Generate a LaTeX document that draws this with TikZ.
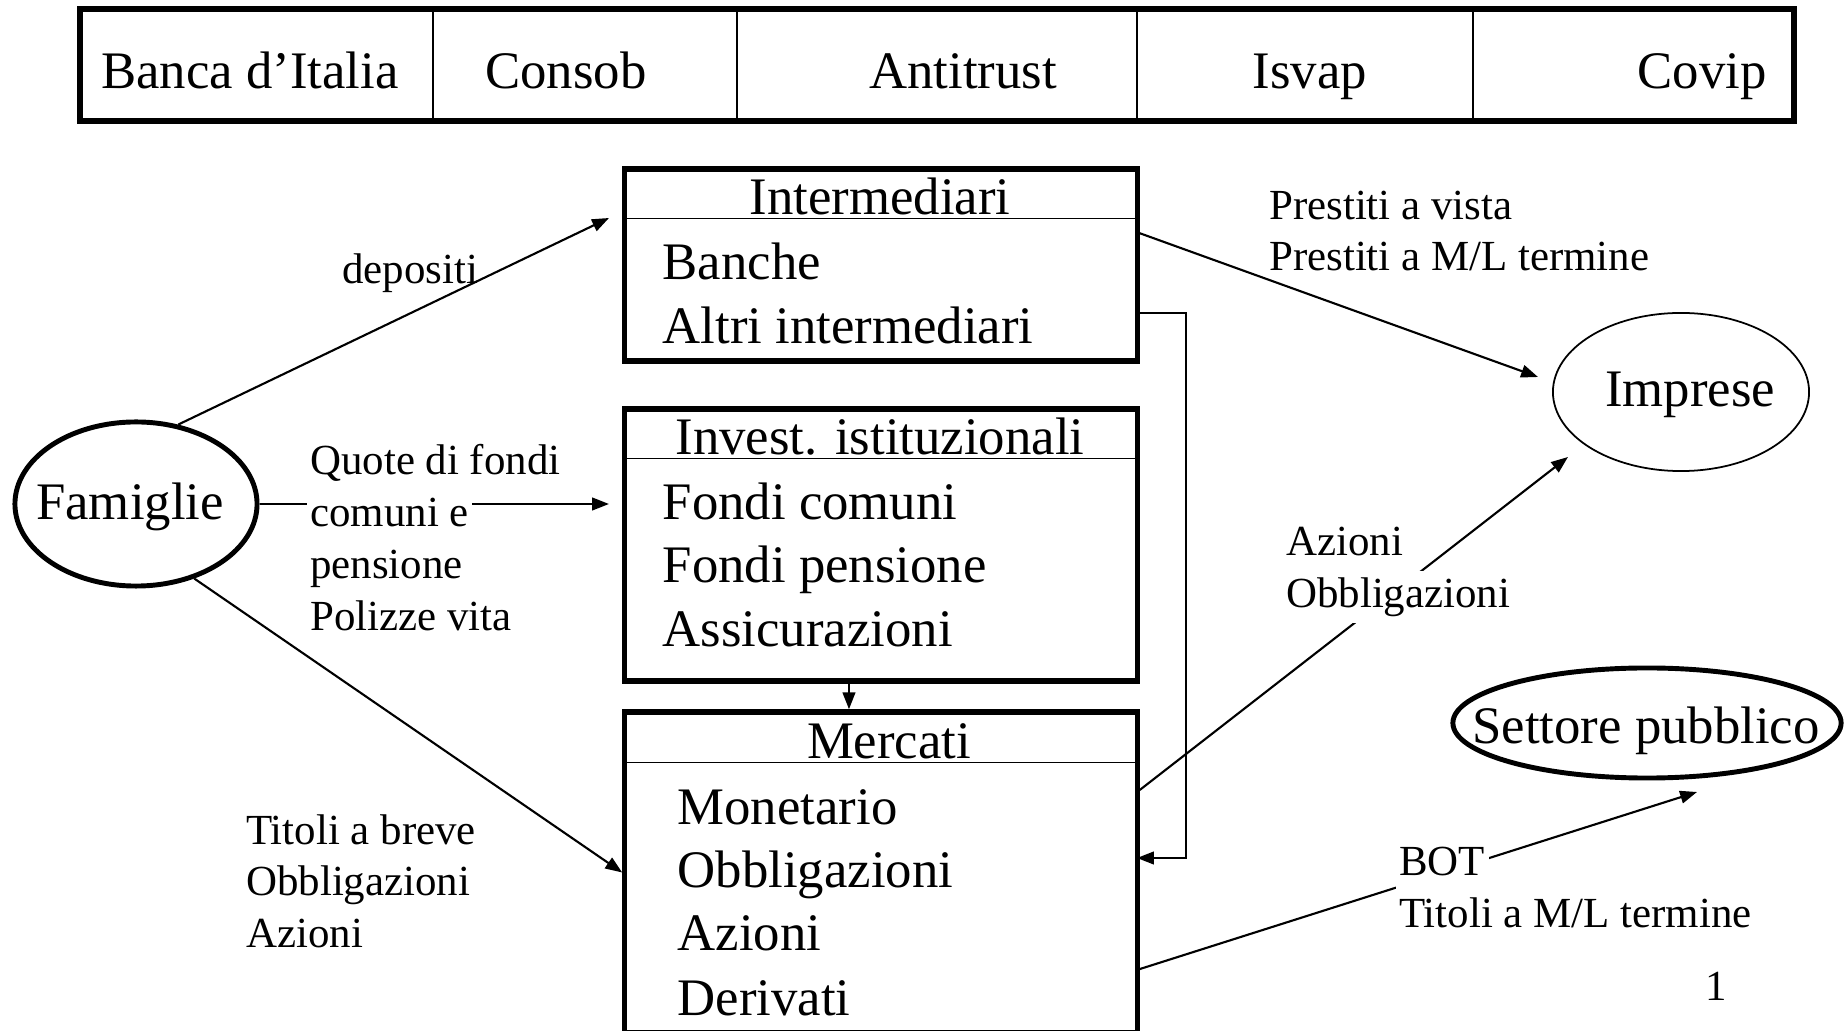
\documentclass[tikz,border=0pt]{standalone}
\usepackage{fontspec}
\setmainfont{Liberation Serif}
\usetikzlibrary{arrows.meta,shapes.geometric}

\tikzset{
  grande/.style={font=\fontsize{15}{18}\selectfont, inner sep=0pt},
  piccolo/.style={font=\fontsize{12.2}{14.6}\selectfont, inner xsep=1pt, inner ysep=1.3pt,
    text height=9.15pt, text depth=3.05pt},
  piccolob/.style={piccolo, fill=white},
  riquadro/.style={draw, rectangle, line width=1.5pt, minimum width=5.12cm},
  ovale/.style={draw, ellipse, inner sep=0pt},
  freccia/.style={line width=0.6pt, -{Triangle[length=4.8pt,width=3.6pt]}},
}

\begin{document}
\begin{tikzpicture}[x=0.01cm,y=-0.01cm]
\useasboundingbox (0,0) rectangle (1848,1031);
\clip (0,0) rectangle (1848,1031);

% Autorità di vigilanza
\draw[line width=1.5pt] (80,9) rectangle (1794,121);
\draw[line width=0.4pt] (433,9) -- (433,121);
\draw[line width=0.4pt] (737,9) -- (737,121);
\draw[line width=0.4pt] (1137,9) -- (1137,121);
\draw[line width=0.4pt] (1473,9) -- (1473,121);
\node[grande, anchor=base] (bdi) at (250,89) {Banca d’Italia};
\node[grande, anchor=base] (consob) at (566,89) {Consob};
\node[grande, anchor=base] (antitrust) at (963,89) {Antitrust};
\node[grande, anchor=base] (isvap) at (1310,89) {Isvap};
\node[grande, anchor=base] (covip) at (1702,89) {Covip};

% Riquadri centrali
\node[riquadro, minimum height=1.92cm] (inter) at (881,265) {};
\node[riquadro, minimum height=2.72cm] (inv) at (881,545) {};
\node[riquadro, minimum height=3.21cm] (merc) at (881,872.5) {};
\draw[line width=0.4pt] ([yshift=-0.52cm]inter.north west) -- ([yshift=-0.52cm]inter.north east);
\draw[line width=0.4pt] ([yshift=-0.52cm]inv.north west) -- ([yshift=-0.52cm]inv.north east);
\draw[line width=0.4pt] ([yshift=-0.53cm]merc.north west) -- ([yshift=-0.53cm]merc.north east);

\node[grande, anchor=base] (intertit) at (880,215) {Intermediari};
\node[grande, anchor=base west] (banche) at (662,280) {Banche};
\node[grande, anchor=base west] (altri) at (662,344) {Altri intermediari};

\node[grande, anchor=base] (invtit) at (880,455) {Invest. istituzionali};
\node[grande, anchor=base west] (fcomuni) at (662,520) {Fondi comuni};
\node[grande, anchor=base west] (fpensione) at (662,583) {Fondi pensione};
\node[grande, anchor=base west] (assic) at (662,647) {Assicurazioni};

\node[grande, anchor=base] (merctit) at (889,759) {Mercati};
\node[grande, anchor=base west] (monet) at (677,824) {Monetario};
\node[grande, anchor=base west] (obblig) at (677,887) {Obbligazioni};
\node[grande, anchor=base west] (azioni) at (677,951) {Azioni};
\node[grande, anchor=base west] (deriv) at (677,1015) {Derivati};

% Settori
\node[ovale, line width=1.4pt, minimum width=2.42cm, minimum height=1.64cm] (fam) at (136,504) {};
\node[grande] (famtxt) at (130,507) {Famiglie};
\node[ovale, line width=0.5pt, minimum width=2.56cm, minimum height=1.58cm] (imp) at (1681,392) {};
\node[grande] (imptxt) at (1690,395) {Imprese};
\node[ovale, line width=1.4pt, minimum width=3.88cm, minimum height=1.10cm] (pub) at (1647,723) {};
\node[grande] (pubtxt) at (1646,731) {Settore pubblico};

% Estremi liberi delle frecce
\coordinate (inter-in) at (609,218);
\coordinate (inv-in) at (609,504);
\coordinate (imp-in1) at (1538,377);
\coordinate (imp-in2) at (1568,457);
\coordinate (pub-in) at (1697,792);
\coordinate (merc-r) at (1137,858);

% Flussi
\draw[freccia] (fam.62) -- (inter-in);
\draw[freccia] (fam.east) -- (inv-in);
\draw[freccia] (fam.-52) -- (merc.west);
\draw[freccia] (inter.7) -- (imp-in1);
\draw[freccia] ([yshift=-0.48cm]inter.east) -- ++(46,0) |- (merc-r);
\draw[freccia] ([xshift=-0.32cm]inv.south) -- ([xshift=-0.32cm]merc.north);
\draw[freccia] ([yshift=0.825cm]merc.east) -- (imp-in2);
\draw[freccia] ([yshift=-0.965cm]merc.east) -- (pub-in);

% Etichette dei flussi
\node[piccolo, anchor=base west] (depositi) at (338,284) {depositi};
\node[piccolob, anchor=base west] (quote1) at (306,475) {Quote di fondi};
\node[piccolob, anchor=base west] (quote2) at (306,527) {comuni e};
\node[piccolob, anchor=base west] (quote3) at (306,579) {pensione};
\node[piccolob, anchor=base west] (quote4) at (306,631) {Polizze vita};
\node[piccolo, anchor=base west] (titoli1) at (242,844) {Titoli a breve};
\node[piccolo, anchor=base west] (titoli2) at (242,896) {Obbligazioni};
\node[piccolo, anchor=base west] (titoli3) at (242,948) {Azioni};
\node[piccolo, anchor=base west] (prestiti1) at (1265,220) {Prestiti a vista};
\node[piccolo, anchor=base west] (prestiti2) at (1265,271) {Prestiti a M/L termine};
\node[piccolob, anchor=base west] (emiss1) at (1282,556) {Azioni};
\node[piccolob, anchor=base west] (emiss2) at (1282,608) {Obbligazioni};
\node[piccolob, anchor=base west] (debito1) at (1395,876) {BOT};
\node[piccolob, anchor=base west] (debito2) at (1395,928) {Titoli a M/L termine};

\node[piccolo, anchor=base] (pag) at (1716,1001) {1};

\end{tikzpicture}
\end{document}
